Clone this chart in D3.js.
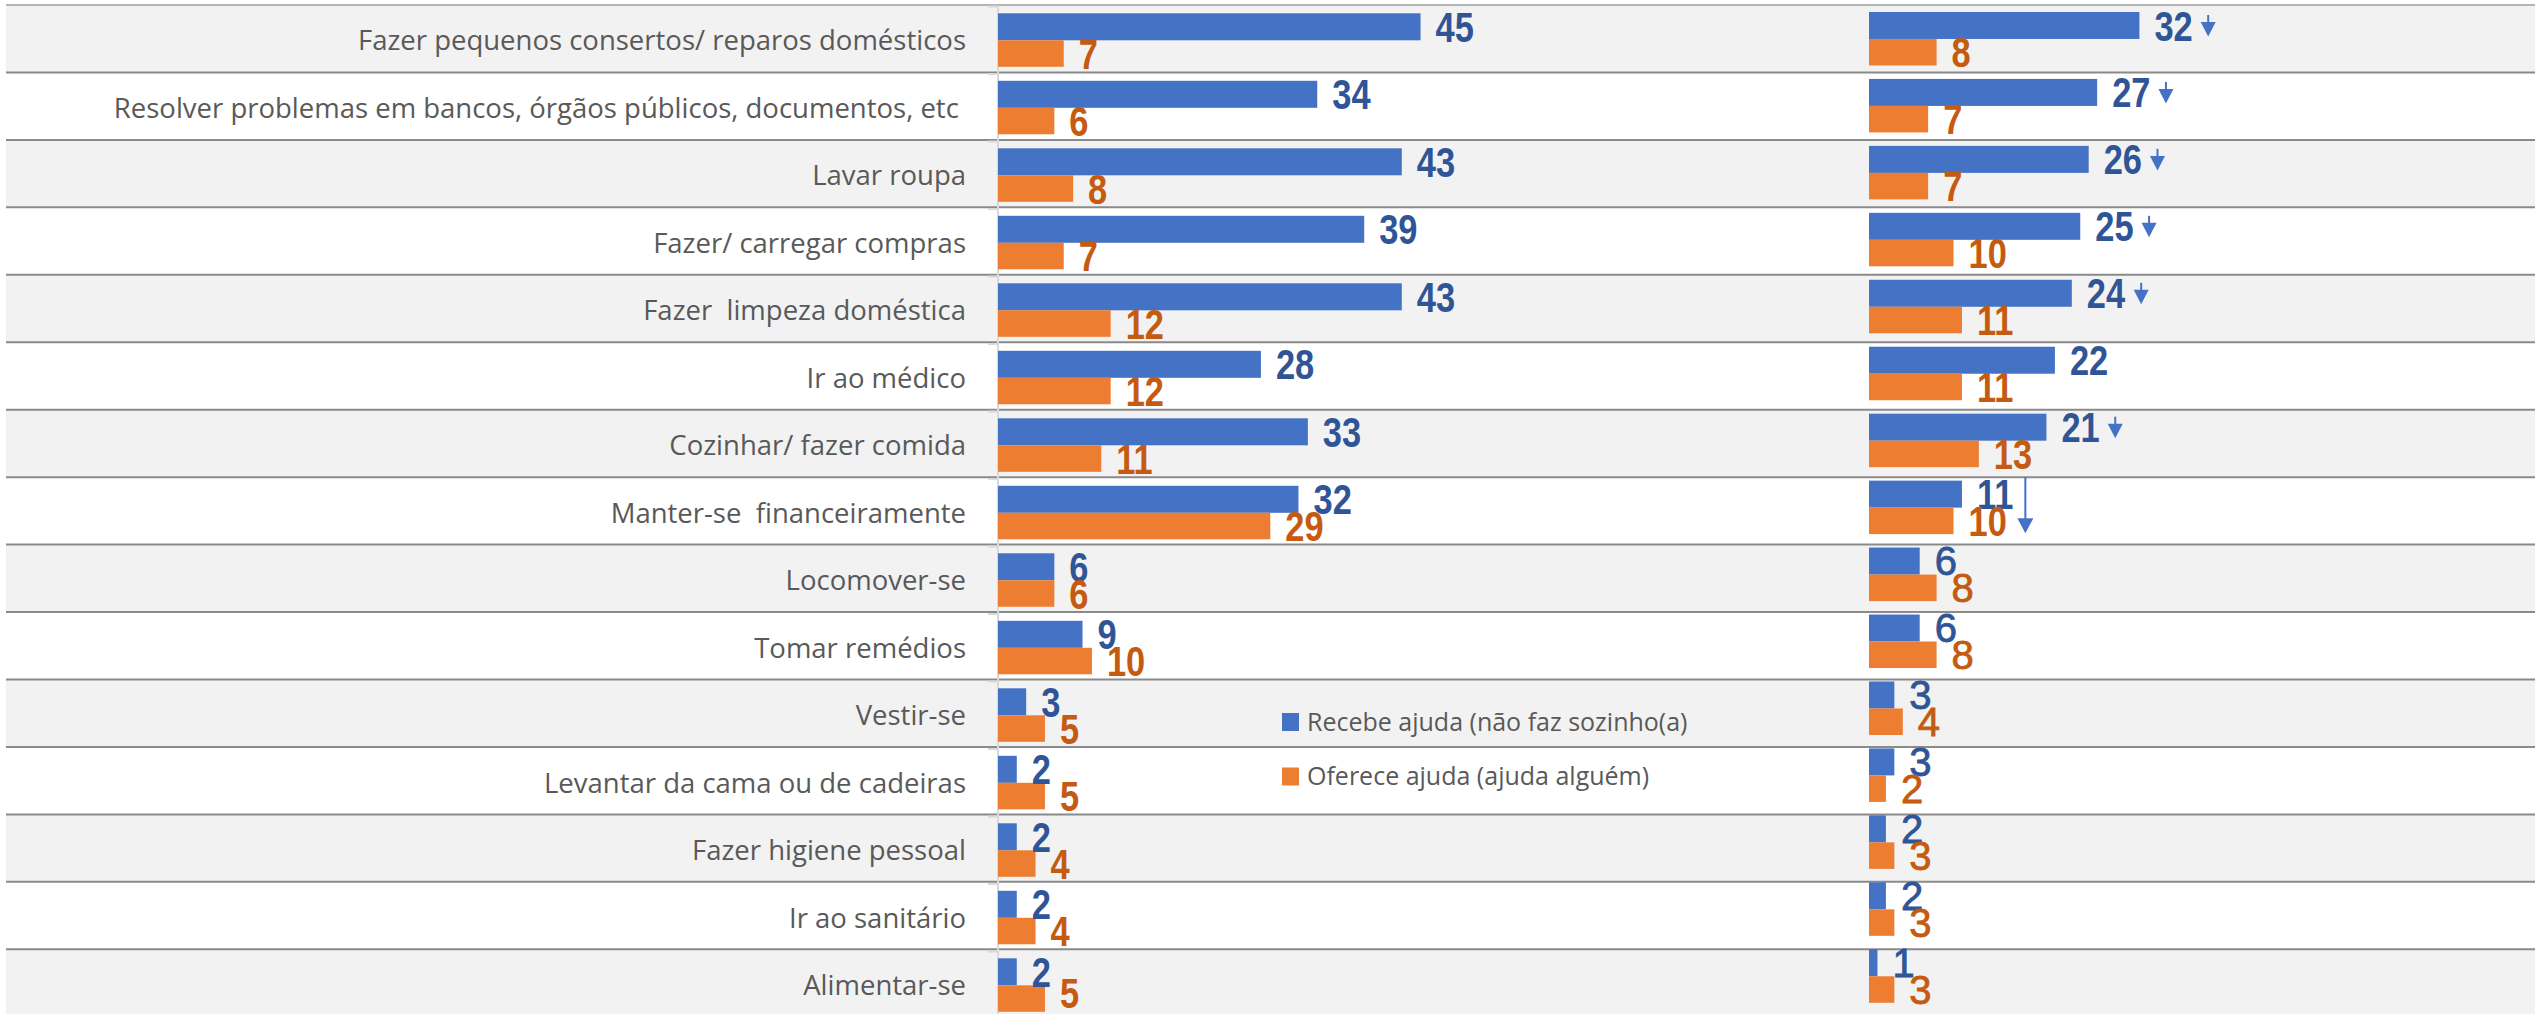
<!DOCTYPE html>
<html>
<head>
<meta charset="utf-8">
<script src="https://cdn.jsdelivr.net/npm/d3@7"></script>
<style>
  html, body { margin: 0; padding: 0; background: #ffffff; }
  svg { display: block; }
  .cat { white-space: pre; }
</style>
</head>
<body>
<div id="chart"></div>
<script>
// ---------------- data ----------------
const categories = [
  "Fazer pequenos consertos/ reparos domésticos",
  "Resolver problemas em bancos, órgãos públicos, documentos, etc ",
  "Lavar roupa",
  "Fazer/ carregar compras",
  "Fazer  limpeza doméstica",
  "Ir ao médico",
  "Cozinhar/ fazer comida",
  "Manter-se  financeiramente",
  "Locomover-se",
  "Tomar remédios",
  "Vestir-se",
  "Levantar da cama ou de cadeiras",
  "Fazer higiene pessoal",
  "Ir ao sanitário",
  "Alimentar-se"
];
const leftRecebe   = [45, 34, 43, 39, 43, 28, 33, 32, 6, 9, 3, 2, 2, 2, 2];
const leftOferece  = [7, 6, 8, 7, 12, 12, 11, 29, 6, 10, 5, 5, 4, 4, 5];
const rightRecebe  = [32, 27, 26, 25, 24, 22, 21, 11, 6, 6, 3, 3, 2, 2, 1];
const rightOferece = [8, 7, 7, 10, 11, 11, 13, 10, 8, 8, 4, 2, 3, 3, 3];
const rightTrend   = ["down", "down", "down", "down", "down", null, "down", "downLong", null, null, null, null, null, null, null];
const seriesNames  = ["Recebe ajuda (não faz sozinho(a)", "Oferece ajuda (ajuda alguém)"];

// ---------------- styles ----------------
const W = 2535, H = 1014;
const BLUE = "#4472c4", ORANGE = "#ed7d31";
const BLUE_TXT = "#2f5597", ORANGE_TXT = "#c55a11";
const GREY_ROW = "#f2f2f2", TEXT_GREY = "#595959";
const NUM_FONT = "'Liberation Sans', Arial, sans-serif";
const LABEL_FONT = "'Open Sans', 'Noto Sans', sans-serif";
const NARROW = 0.82;   // condensed look of the value labels

const svg = d3.select("#chart").append("svg")
  .attr("width", W).attr("height", H);

// scales
const rowStep = 67.45;
const yRows = d3.scaleBand().domain(categories).range([5, 5 + 15 * rowStep]);
const yL = d3.scaleBand().domain(categories).range([6.55, 6.55 + 15 * 67.5]);
const yR = d3.scaleBand().domain(categories).range([5.5, 5.5 + 15 * 66.95]);
const xL = d3.scaleLinear().domain([0, 50]).range([998, 998 + 469.5]);
const xR = d3.scaleLinear().domain([0, 50]).range([1869, 1869 + 422.5]);

const rowLeft = 6;

// row backgrounds
svg.append("g").selectAll("rect")
  .data(categories)
  .join("rect")
  .attr("x", rowLeft)
  .attr("y", d => yRows(d))
  .attr("width", W - rowLeft)
  .attr("height", yRows.bandwidth())
  .attr("fill", (d, i) => i % 2 === 0 ? GREY_ROW : "#ffffff");

// row separator lines
const sepYs = categories.map(d => yRows(d)).concat([yRows(categories[categories.length - 1]) + yRows.bandwidth()]);
svg.append("g").selectAll("line")
  .data(sepYs)
  .join("line")
  .attr("x1", rowLeft).attr("x2", W)
  .attr("y1", d => d).attr("y2", d => d)
  .attr("stroke", (d, i) => i === 0 ? "#b4b4b4" : "#8a8a8a")
  .attr("stroke-width", 2);

// left axis line + category ticks
const axisG = svg.append("g");
axisG.append("line")
  .attr("x1", xL(0)).attr("x2", xL(0))
  .attr("y1", yL.range()[0]).attr("y2", H)
  .attr("stroke", "#d9d9d9").attr("stroke-width", 2);
axisG.selectAll("line.tick")
  .data(categories)
  .join("line")
  .attr("class", "tick")
  .attr("x1", xL(0) - 10).attr("x2", xL(0))
  .attr("y1", d => yL(d)).attr("y2", d => yL(d))
  .attr("stroke", "#d9d9d9").attr("stroke-width", 2);

// category labels
svg.append("g").selectAll("text")
  .data(categories)
  .join("text")
  .attr("class", "cat")
  .attr("x", 966)
  .attr("y", d => yL(d) + yL.bandwidth() / 2 + 9.8)
  .attr("text-anchor", "end")
  .attr("font-family", LABEL_FONT)
  .attr("font-size", 27.5)
  .attr("fill", TEXT_GREY)
  .text(d => d);

const BAR_H1 = 27, BAR_H2 = 26.5;
const MAX_BASE = H - 6;

function drawPanel(x, y, rec, ofe, altFrom) {
  const g = svg.append("g");
  const rows = categories.map((c, i) => ({ c, i, r: rec[i], o: ofe[i] }));
  const pc = d => y(d.c) + y.bandwidth() / 2;

  g.selectAll("rect.rec").data(rows).join("rect")
    .attr("class", "rec")
    .attr("x", x(0)).attr("y", d => pc(d) - BAR_H1)
    .attr("width", d => x(d.r) - x(0)).attr("height", BAR_H1)
    .attr("fill", BLUE);
  g.selectAll("rect.ofe").data(rows).join("rect")
    .attr("class", "ofe")
    .attr("x", x(0)).attr("y", d => pc(d))
    .attr("width", d => x(d.o) - x(0)).attr("height", BAR_H2)
    .attr("fill", ORANGE);

  const isAlt = d => altFrom != null && d.i >= altFrom;
  const fontW = d => isAlt(d) ? "normal" : "bold";
  const fontS = d => isAlt(d) ? 40 : 42;
  const sx = d => isAlt(d) ? 1 : NARROW;
  const half = d => fontS(d) * 0.716 / 2;

  const place = (d, xv, cy) => {
    const base = Math.min(cy + half(d), MAX_BASE);
    return `translate(${x(xv) + 15},${base}) scale(${sx(d)},1)`;
  };

  const recLabels = g.selectAll("text.rec").data(rows).join("text")
    .attr("class", "rec")
    .attr("transform", d => place(d, d.r, pc(d) - BAR_H1 / 2))
    .attr("font-family", NUM_FONT).attr("font-weight", fontW).attr("font-size", fontS)
    .attr("fill", BLUE_TXT)
    .attr("stroke", d => isAlt(d) ? BLUE_TXT : "none")
    .attr("stroke-width", 0.8)
    .text(d => d.r);
  g.selectAll("text.ofe").data(rows).join("text")
    .attr("class", "ofe")
    .attr("transform", d => place(d, d.o, pc(d) + BAR_H2 / 2))
    .attr("font-family", NUM_FONT).attr("font-weight", fontW).attr("font-size", fontS)
    .attr("fill", ORANGE_TXT)
    .attr("stroke", d => isAlt(d) ? ORANGE_TXT : "none")
    .attr("stroke-width", 0.8)
    .text(d => d.o);
  return { rows, recLabels, pc, x, sx };
}

drawPanel(xL, yL, leftRecebe, leftOferece, null);
const right = drawPanel(xR, yR, rightRecebe, rightOferece, 8);

// trend arrows (right panel)
const arrowG = svg.append("g");
right.recLabels.each(function (d) {
  const t = rightTrend[d.i];
  if (!t) return;
  const bb = this.getBBox();
  const endX = right.x(d.r) + 15 + (bb.x + bb.width) * right.sx(d);
  const c = right.pc(d);
  if (t === "down") {
    const ax = endX + 8 + 7.5;
    const top = c - 24, headTop = c - 17, tip = c - 2.5, hw = 7.5;
    arrowG.append("line")
      .attr("x1", ax).attr("x2", ax).attr("y1", top).attr("y2", headTop + 1)
      .attr("stroke", BLUE).attr("stroke-width", 2);
    arrowG.append("path")
      .attr("d", `M${ax - hw},${headTop}L${ax + hw},${headTop}L${ax},${tip}Z`)
      .attr("fill", BLUE);
  } else if (t === "downLong") {
    const ax = endX + 12;
    const top = yRows(d.c), tip = c + 25.5, headTop = tip - 15, hw = 8;
    arrowG.append("line")
      .attr("x1", ax).attr("x2", ax).attr("y1", top).attr("y2", headTop + 1)
      .attr("stroke", BLUE).attr("stroke-width", 2);
    arrowG.append("path")
      .attr("d", `M${ax - hw},${headTop}L${ax + hw},${headTop}L${ax},${tip}Z`)
      .attr("fill", BLUE);
  }
});

// legend
const legend = svg.append("g").attr("transform", "translate(1282,713)");
const legColors = [BLUE, ORANGE];
const legItems = legend.selectAll("g").data(seriesNames).join("g")
  .attr("transform", (d, i) => `translate(0,${i * 54.5})`);
legItems.append("rect")
  .attr("x", 0).attr("y", 0).attr("width", 17).attr("height", 18)
  .attr("fill", (d, i) => legColors[i]);
legItems.append("text")
  .attr("x", 25).attr("y", 17.5)
  .attr("font-family", LABEL_FONT).attr("font-size", 25)
  .attr("fill", TEXT_GREY)
  .text(d => d);
</script>
</body>
</html>
